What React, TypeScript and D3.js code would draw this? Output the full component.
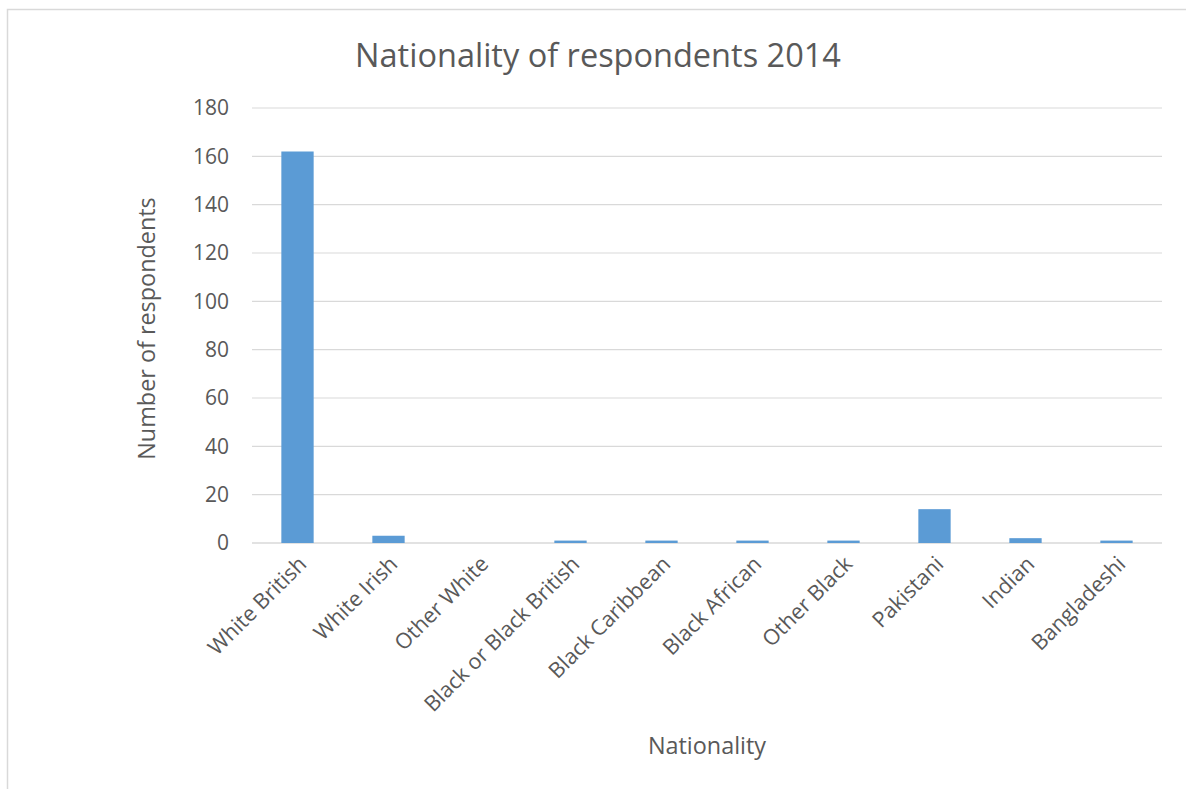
import React from "react";
import * as d3 from "d3";

const categories = [
  "White British",
  "White Irish",
  "Other White",
  "Black or Black British",
  "Black Caribbean",
  "Black African",
  "Other Black",
  "Pakistani",
  "Indian",
  "Bangladeshi",
];
const respondents = [162, 3, 0, 1, 1, 1, 1, 14, 2, 1];
const yTicks = [0, 20, 40, 60, 80, 100, 120, 140, 160, 180];

const W = 1186;
const H = 789;
const plot = { left: 252, right: 1162, top: 108, bottom: 543 };
const font = "'Open Sans', 'Liberation Sans', sans-serif";
const textColor = "#595959";

export default function App() {
  const x = d3
    .scaleBand<string>()
    .domain(categories)
    .range([plot.left, plot.right])
    .paddingInner(0.645)
    .paddingOuter(0.3225);
  const y = d3.scaleLinear().domain([0, 180]).range([plot.bottom, plot.top]);

  return (
    <svg
      width={W}
      height={H}
      style={{ position: "absolute", left: 0, top: 0, background: "#fff" }}
      fontFamily={font}
    >
      <rect x={7.5} y={9.5} width={1182} height={800} fill="#fff" stroke="#d9d9d9" strokeWidth={1.5} />
      <text x={598} y={67} textAnchor="middle" fontSize={32.5} fill={textColor}>
        Nationality of respondents 2014
      </text>
      {yTicks.map((t) => (
        <g key={t}>
          <line
            x1={plot.left}
            x2={plot.right}
            y1={y(t)}
            y2={y(t)}
            stroke="#d9d9d9"
            strokeWidth={t === 0 ? 1.5 : 1.2}
          />
          <text x={229} y={y(t)} dy="0.35em" textAnchor="end" fontSize={21} fill={textColor}>
            {t}
          </text>
        </g>
      ))}
      {categories.map((c, i) => (
        <rect
          key={c}
          x={x(c)}
          y={y(respondents[i])}
          width={x.bandwidth()}
          height={plot.bottom - y(respondents[i])}
          fill="#5b9bd5"
        />
      ))}
      {categories.map((c) => {
        const cx = (x(c) as number) + x.bandwidth() / 2 + 5;
        return (
          <text
            key={c}
            transform={`translate(${cx},${plot.bottom + 17}) rotate(-45)`}
            textAnchor="end"
            dy="0.35em"
            fontSize={21.5}
            fill={textColor}
          >
            {c}
          </text>
        );
      })}
      <text
        transform={`translate(155,${(plot.top + plot.bottom) / 2 + 3}) rotate(-90)`}
        textAnchor="middle"
        fontSize={23.4}
        fill={textColor}
      >
        Number of respondents
      </text>
      <text x={707} y={754} textAnchor="middle" fontSize={23.4} fill={textColor}>
        Nationality
      </text>
    </svg>
  );
}
